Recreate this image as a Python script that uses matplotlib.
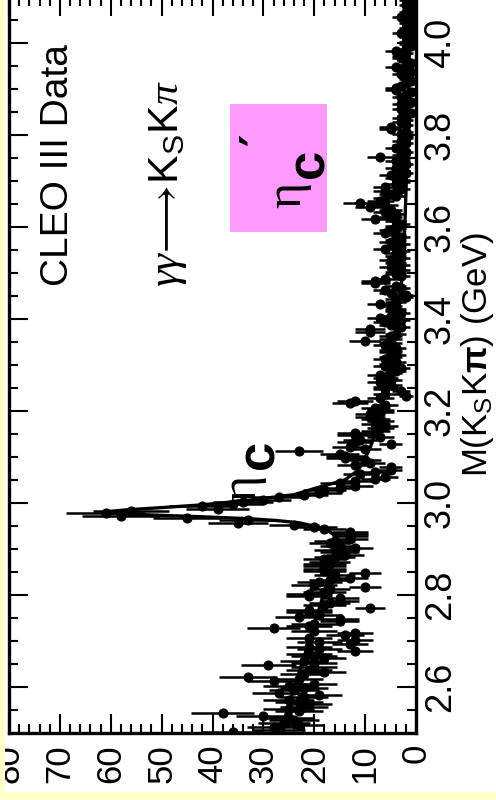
import matplotlib
matplotlib.use('Agg')
import matplotlib.pyplot as plt
import numpy as np
from matplotlib.patches import Rectangle
from matplotlib.ticker import MultipleLocator

plt.rcParams['font.family'] = ['Liberation Sans', 'DejaVu Sans']
plt.rcParams['mathtext.fontset'] = 'custom'
plt.rcParams['mathtext.rm'] = 'Liberation Sans'
plt.rcParams['mathtext.it'] = 'Liberation Serif:italic'
plt.rcParams['mathtext.bf'] = 'Liberation Sans:bold'

# ---------------- data ----------------
bin_start = 2.5025   # first bin centre (GeV)
bin_width = 0.005    # GeV
counts = [
    36, 27, 28, 23, 26, 24, 25, 30, 38, 23,   # 2.50-2.55
    25, 22, 21, 23, 25, 22, 19, 27, 24, 22,   # 2.55-2.60
    25, 20, 28, 23, 33, 22, 18, 21, 20, 29,   # 2.60-2.65
    20, 22, 18, 20, 21, 12, 19, 21, 13, 19,   # 2.65-2.70
    12, 21, 14, 12, 20, 28, 21, 20, 15, 15,   # 2.70-2.75
    23, 19, 21, 21, 9, 18, 17, 15, 15, 21,    # 2.75-2.80
    21, 18, 17, 10, 20, 19, 17, 13, 16, 10,   # 2.80-2.85
    18, 18, 18, 18, 17, 18, 16, 14, 15, 16,   # 2.85-2.90
    12, 15, 17, 16, 13, 13, 13, 13, 18, 20,   # 2.90-2.95
    24, 35, 33, 45, 58, 61, 56, 39, 42, 36,   # 2.95-3.00
    34, 30, 27, 22, 19, 18, 15, 12, 15, 12,   # 3.00-3.05
    8, 6, 11, 8, 5, 5, 12, 9, 10, 14,         # 3.05-3.10
    14, 15, 23, 10, 13, 5, 12, 11, 7, 12,     # 3.10-3.15
    12, 8, 7, 6, 8, 7, 8, 9, 9, 7,            # 3.15-3.20
    7, 8, 6, 13, 12, 7, 2, 6, 3, 6,           # 3.20-3.25
    6, 5, 7, 5, 6, 7, 5, 4, 3, 6,             # 3.25-3.30
    5, 4, 6, 5, 4, 5, 5, 4, 6, 5,             # 3.30-3.35
    10, 5, 5, 4, 9, 9, 3, 5, 6, 3,            # 3.35-3.40
    7, 5, 3, 4, 4, 5, 7, 4, 4, 2,             # 3.40-3.45
    2, 5, 6, 3, 4, 8, 8, 6, 3, 4,             # 3.45-3.50
    4, 3, 5, 3, 4, 5, 3, 4, 4, 3,             # 3.50-3.55
    6, 4, 3, 5, 4, 3, 4, 6, 5, 4,             # 3.55-3.60
    4, 3, 4, 8, 5, 4, 6, 5, 9, 6,             # 3.60-3.65
    11, 7, 6, 4, 5, 6, 3, 6, 4, 3,            # 3.65-3.70
    3, 4, 5, 2, 3, 4, 3, 2, 4, 3,             # 3.70-3.75
    7, 3, 2, 3, 4, 3, 2, 3, 2, 2,             # 3.75-3.80
    3, 2, 5, 5, 2, 3, 2, 3, 2, 1,             # 3.80-3.85
    2, 3, 2, 3, 1, 2, 3, 2, 1, 4,             # 3.85-3.90
    4, 3, 2, 1, 2, 2, 3, 1, 2, 4,             # 3.90-3.95
    2, 1, 2, 3, 3, 2, 4, 2, 1, 2,             # 3.95-4.00
    2, 1, 2, 1, 3, 1, 2, 1, 2, 1,             # 4.00-4.05
    2, 3, 1, 2, 1, 1, 2, 1, 2, 1,             # 4.05-4.10
]

# fit curve
fit_mass = [2.50, 2.60, 2.70, 2.80, 2.90, 2.930, 2.945, 2.957, 2.962, 2.966,
            2.970, 2.974, 2.978, 2.981, 2.985, 2.990, 2.996, 3.0065, 3.018,
            3.033, 3.050, 3.070, 3.089, 3.120, 3.165, 3.200, 3.239, 3.289,
            3.340, 3.398, 3.450, 3.507, 3.600, 3.700, 3.800, 3.900, 4.000, 4.100]
fit_counts = [26.7, 23.9, 21.0, 18.2, 15.4, 16.0, 18.0, 23.0, 27.5, 33.0,
              42.0, 52.0, 60.0, 61.0, 57.0, 50.0, 42.0, 32.6, 24.0,
              19.5, 14.0, 11.5, 10.4, 9.0, 7.7, 7.1, 6.5, 5.2,
              4.4, 3.7, 3.1, 2.6, 2.2, 1.9, 1.7, 1.5, 1.35, 1.25]

count_ticks = [0, 10, 20, 30, 40, 50, 60, 70, 80]
mass_ticks = [2.6, 2.8, 3.0, 3.2, 3.4, 3.6, 3.8, 4.0]

# ---------------- figure ----------------
W, H = 496, 800
fig = plt.figure(figsize=(W / 100, H / 100), dpi=100)
fig.patch.set_facecolor('#FFFFCC')
fig.add_artist(Rectangle((5 / W, 8 / H), 1, 1, transform=fig.transFigure,
                         facecolor='white', edgecolor='none', zorder=-5))

def fx(x):
    return x / W

def fy(y):
    return 1 - y / H

ax_left, ax_right, ax_bottom, ax_top = 9, 416, 733, -3
ax = fig.add_axes([fx(ax_left), fy(ax_bottom), (ax_right - ax_left) / W,
                   (ax_bottom - ax_top) / H])
ax.set_facecolor('none')

mass = np.arange(len(counts)) * bin_width + bin_start
cnt = np.array(counts, dtype=float)
err = np.sqrt(cnt)

ax.errorbar(cnt, mass, xerr=err, fmt='o', color='black', ms=6.3,
            elinewidth=1.8, capsize=0, zorder=3)
ax.plot(fit_counts, fit_mass, color='black', lw=2.4, zorder=4)

ax.set_xlim(80, 0)
ax.set_ylim(2.5, 4.1)

ax.xaxis.set_major_locator(MultipleLocator(10))
ax.xaxis.set_minor_locator(MultipleLocator(2))
ax.yaxis.set_major_locator(MultipleLocator(0.2))
ax.yaxis.set_minor_locator(MultipleLocator(0.05))
ax.set_xticks(count_ticks)
ax.set_xticklabels([str(v) for v in count_ticks])
ax.set_yticks(mass_ticks)
ax.set_yticklabels(['%.1f' % v for v in mass_ticks])

ax.yaxis.tick_right()
ax.tick_params(which='both', direction='in', top=True, bottom=True,
               left=True, right=True, width=1.5, color='black')
ax.tick_params(which='major', length=13.5)
ax.tick_params(which='minor', length=6.8)
ax.tick_params(axis='y', labelright=True, labelleft=False, labelrotation=90,
               labelsize=26, pad=5)
ax.tick_params(axis='x', labelrotation=90, labelsize=25, pad=8)
for lab in ax.get_yticklabels():
    lab.set_va('center')
for sp in ax.spines.values():
    sp.set_linewidth(2.4)

# pink box
fig.add_artist(Rectangle((fx(230), fy(232)), (327 - 230) / W, (232 - 104) / H,
                         transform=fig.transFigure, facecolor='#FF99FF',
                         edgecolor='none', zorder=1))

# texts
fig.text(fx(58), fy(165), 'CLEO III Data', rotation=90, fontsize=28,
         ha='center', va='center')
fig.text(fx(168), fy(183), r'$\gamma\gamma\!\longrightarrow\!\mathrm{K_S K}\pi$',
         rotation=90, fontsize=31, ha='center', va='center')
fig.text(fx(477), fy(355), r'M(K$_\mathrm{S}$K$\mathbf{\pi}$) (GeV)',
         rotation=90, fontsize=25, ha='center', va='center')

# eta_c' in the pink box
fig.text(fx(288), fy(195), 'η', rotation=90, fontsize=36,
         family='Liberation Serif', ha='center', va='center', zorder=6)
fig.text(fx(310), fy(163), 'c', rotation=90, fontsize=38, weight='bold',
         ha='center', va='center', zorder=6)
fig.text(fx(260), fy(140), '′', rotation=90, fontsize=34, weight='bold',
         family=['DejaVu Sans'], ha='center', va='center', zorder=6)

# eta_c at the peak
fig.text(fx(243), fy(488), 'η', rotation=90, fontsize=36,
         family='Liberation Serif', ha='center', va='center', zorder=6)
fig.text(fx(260), fy(454), 'c', rotation=90, fontsize=38, weight='bold',
         ha='center', va='center', zorder=6)

# yellow border strips on top (crop of slide)
fig.add_artist(Rectangle((0, 0), 5 / W, 1, transform=fig.transFigure,
                         facecolor='#FFFFCC', edgecolor='none', zorder=20))
fig.add_artist(Rectangle((0, 0), 1, 8 / H, transform=fig.transFigure,
                         facecolor='#FFFFCC', edgecolor='none', zorder=20))

fig.savefig('out.png', dpi=100, facecolor=fig.get_facecolor())
